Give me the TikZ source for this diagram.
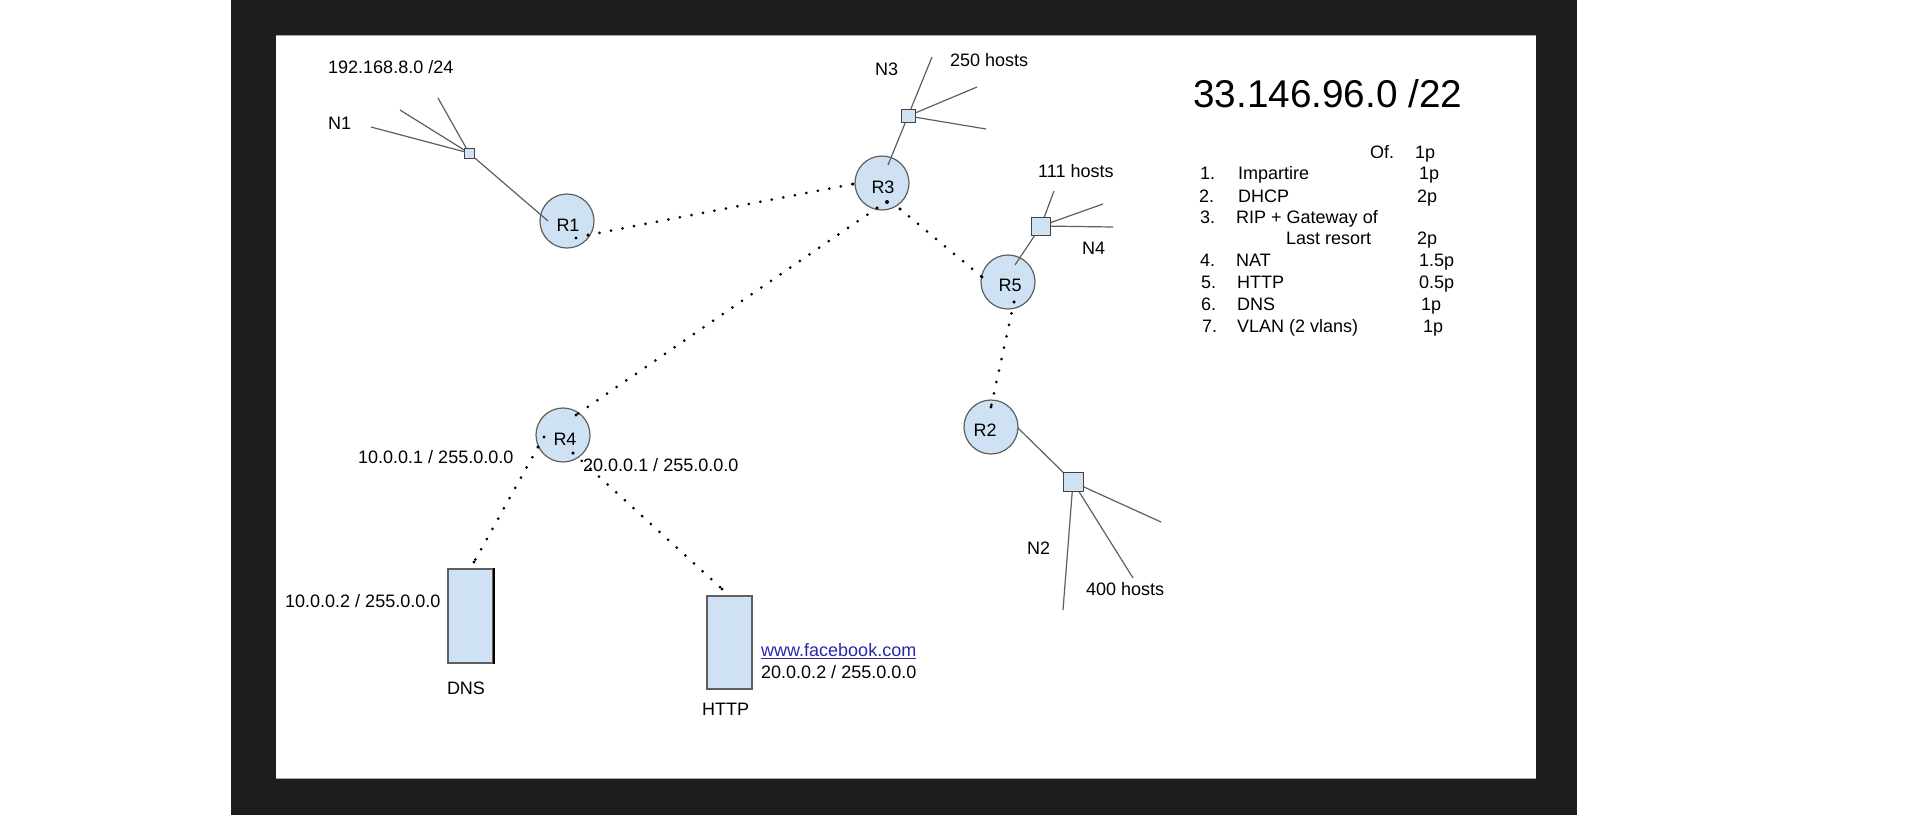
\documentclass[tikz,border=0pt]{standalone}
\usepackage{fontspec}
\setmainfont{Liberation Sans}
\pgfdeclarelayer{frame}
\pgfdeclarelayer{bg}
\pgfsetlayers{frame,bg,main}
\definecolor{frameblack}{RGB}{30,28,28}
\definecolor{nodeblue}{RGB}{207,226,243}
\definecolor{edgegray}{RGB}{95,95,95}
\definecolor{linkblue}{RGB}{40,40,170}
\begin{document}
\begin{tikzpicture}[x=1pt,y=-1pt,
  router/.style={circle,draw=edgegray,fill=nodeblue,line width=1.2pt,minimum size=54pt,inner sep=0pt},
  switchbox/.style={rectangle,draw=edgegray!70!black,fill=nodeblue,line width=1pt,inner sep=0pt},
  server/.style={rectangle,draw=edgegray,fill=nodeblue,line width=1.2pt,inner sep=0pt,minimum width=45pt},
  wire/.style={draw=edgegray,line width=1.2pt},
  dotlink/.style={draw=black,line width=3pt,line cap=round,dash pattern=on 0pt off 11.7pt},
  lbl/.style={anchor=base west,inner sep=0pt,font=\fontsize{18}{22}\selectfont},
  clbl/.style={anchor=base,inner sep=0pt,font=\fontsize{18}{22}\selectfont},
  dotmark/.style={circle,fill=black,inner sep=0pt,minimum size=3.4pt}
]
\useasboundingbox (0,0) rectangle (1907,815);
\begin{pgfonlayer}{frame}
  \fill[white] (0,0) rectangle (1907,815);
  \fill[frameblack] (231,0) rectangle (1577,815);
  \fill[white] (276,35) rectangle (1536,778);
  \draw[gray!70,line width=1pt] (276,35) -- (1536,35);
  \draw[gray!70,line width=1pt] (276,778) -- (1536,778);
\end{pgfonlayer}

% routers
\node[router] (R1) at (567,221) {};
\node[router] (R3) at (882,183) {};
\node[router] (R5) at (1008,282) {};
\node[router] (R4) at (563,435) {};
\node[router] (R2) at (991,427) {};
\node[clbl] (R1t) at (568,231.4) {R1};
\node[clbl] (R3t) at (883,193.4) {R3};
\node[clbl] (R5t) at (1010,291.4) {R5};
\node[clbl] (R4t) at (565,445.4) {R4};
\node[clbl] (R2t) at (985,436.4) {R2};

% switches
\node[switchbox,minimum width=10pt,minimum height=10pt] (S1) at (469,153) {};
\node[switchbox,minimum width=14pt,minimum height=13pt] (S3) at (908,116) {};
\node[switchbox,minimum width=19pt,minimum height=18pt] (S4) at (1041,226) {};
\node[switchbox,minimum width=20pt,minimum height=19pt] (S2) at (1073,482) {};

% servers
\node[server,minimum height=94pt] (DNS) at (470.5,616) {};
\draw[black,line width=2pt] (DNS.north east) -- (DNS.south east);
\node[server,minimum height=93pt] (HTTP) at (729.5,642.5) {};

% end points of host wires
\coordinate (h1a) at (371,127);
\coordinate (h1b) at (400,110);
\coordinate (h1c) at (438,98);
\coordinate (r1w) at (548,221);
\coordinate (h3a) at (932,57);
\coordinate (h3b) at (977,87);
\coordinate (h3c) at (986,129);
\coordinate (r3w) at (888,165);
\coordinate (h4a) at (1054,191);
\coordinate (h4b) at (1103,204);
\coordinate (h4c) at (1113,227);
\coordinate (r5w) at (1015,265);
\coordinate (h2a) at (1161,522);
\coordinate (h2b) at (1063,610);
\coordinate (h2c) at (1133,578);
\coordinate (r2w) at (1018,428);

% dotted link end points
\coordinate (r1d) at (588,235);
\coordinate (r3l) at (853,184);
\coordinate (r3r) at (900,209);
\coordinate (r3b) at (877,208);
\coordinate (r5l) at (982,277);
\coordinate (r5b) at (1014,302);
\coordinate (r2t) at (991,407);
\coordinate (r4t) at (576,415);
\coordinate (r4l) at (538,447);
\coordinate (r4r) at (573,453);
\coordinate (dnst) at (474,562);
\coordinate (httpt) at (722,589);

\begin{pgfonlayer}{bg}
  \draw[wire] (S1.center) -- (h1a);
  \draw[wire] (S1.center) -- (h1b);
  \draw[wire] (S1.center) -- (h1c);
  \draw[wire] (S3.center) -- (h3a);
  \draw[wire] (S3.center) -- (h3b);
  \draw[wire] (S3.center) -- (h3c);
  \draw[wire] (S4.center) -- (h4a);
  \draw[wire] (S4.center) -- (h4b);
  \draw[wire] (S4.center) -- (h4c);
  \draw[wire] (S2.center) -- (h2a);
  \draw[wire] (S2.center) -- (h2b);
  \draw[wire] (S2.center) -- (h2c);
  \draw[wire] (r2w) -- (S2.center);
\end{pgfonlayer}
% wires that run into the routers
\draw[wire] (S1) -- (r1w);
\draw[wire] (S3) -- (r3w);
\draw[wire] (S4) -- (r5w);

% dotted links
\draw[dotlink] (r1d) -- (r3l);
\draw[dotlink] (r3r) -- (r5l);
\draw[dotlink] (r3b) -- (r4t);
\draw[dotlink] (r5b) -- (r2t);
\draw[dotlink] (r4l) -- (dnst);
\draw[dotlink] (r4r) -- (httpt);
\foreach \p in {r1d,r3l,r3r,r3b,r5l,r5b,r2t,r4t,r4l,r4r,dnst,httpt}
  \node[dotmark] at (\p) {};
\node[dotmark] (m1) at (576,238) {};
\node[dotmark,minimum size=4pt] (m3) at (887,202) {};
\node[dotmark] (m4) at (544,437) {};

% labels
\node[lbl] (net1) at (328,73.5) {192.168.8.0 /24};
\node[lbl] (N1) at (328,129.4) {N1};
\node[lbl] (N3) at (875,75.4) {N3};
\node[lbl] (h250) at (950,66.4) {250 hosts};
\node[lbl] (h111) at (1038,177.4) {111 hosts};
\node[lbl] (N4) at (1082,254.4) {N4};
\node[lbl] (ip1) at (358,463.4) {10.0.0.1 / 255.0.0.0};
\node[lbl] (ip2) at (583,471.4) {20.0.0.1 / 255.0.0.0};
\node[lbl] (ip3) at (285,607.4) {10.0.0.2 / 255.0.0.0};
\node[clbl] (dnsl) at (466,694.4) {DNS};
\node[lbl] (httpl) at (702,715.4) {HTTP};
\node[lbl,text=linkblue] (fb) at (761,656.4) {www.facebook.com};
\draw[linkblue,line width=1pt] ([yshift=-2pt]fb.base west) -- ([yshift=-2pt]fb.base east);
\node[lbl] (ip4) at (761,678.4) {20.0.0.2 / 255.0.0.0};
\node[lbl] (N2) at (1027,554.4) {N2};
\node[lbl] (h400) at (1086,595.4) {400 hosts};

% title and list
\node[lbl,font=\fontsize{38.7}{44}\selectfont] (title) at (1193,107) {33.146.96.0 /22};
\node[lbl] (of) at (1370,158.1) {Of.};
\node[lbl] (of1) at (1415,158.1) {1p};
\node[lbl] (n1) at (1200,179.7) {1.};
\node[lbl] (t1) at (1238,179.7) {Impartire};
\node[lbl] (p1) at (1419,179.7) {1p};
\node[lbl] (n2) at (1199,202.1) {2.};
\node[lbl] (t2) at (1238,202.1) {DHCP};
\node[lbl] (p2) at (1417,202.1) {2p};
\node[lbl] (n3) at (1200,223.1) {3.};
\node[lbl] (t3) at (1236,223.1) {RIP + Gateway of};
\node[lbl] (t3b) at (1286,244.7) {Last resort};
\node[lbl] (p3) at (1417,244.7) {2p};
\node[lbl] (n4) at (1200,266.4) {4.};
\node[lbl] (t4) at (1236,266.4) {NAT};
\node[lbl] (p4) at (1419,266.4) {1.5p};
\node[lbl] (n5) at (1201,288.1) {5.};
\node[lbl] (t5) at (1237,288.1) {HTTP};
\node[lbl] (p5) at (1419,288.1) {0.5p};
\node[lbl] (n6) at (1201,310.4) {6.};
\node[lbl] (t6) at (1237,310.4) {DNS};
\node[lbl] (p6) at (1421,310.4) {1p};
\node[lbl] (n7) at (1202,332.4) {7.};
\node[lbl] (t7) at (1237,332.4) {VLAN (2 vlans)};
\node[lbl] (p7) at (1423,332.4) {1p};
\end{tikzpicture}
\end{document}
